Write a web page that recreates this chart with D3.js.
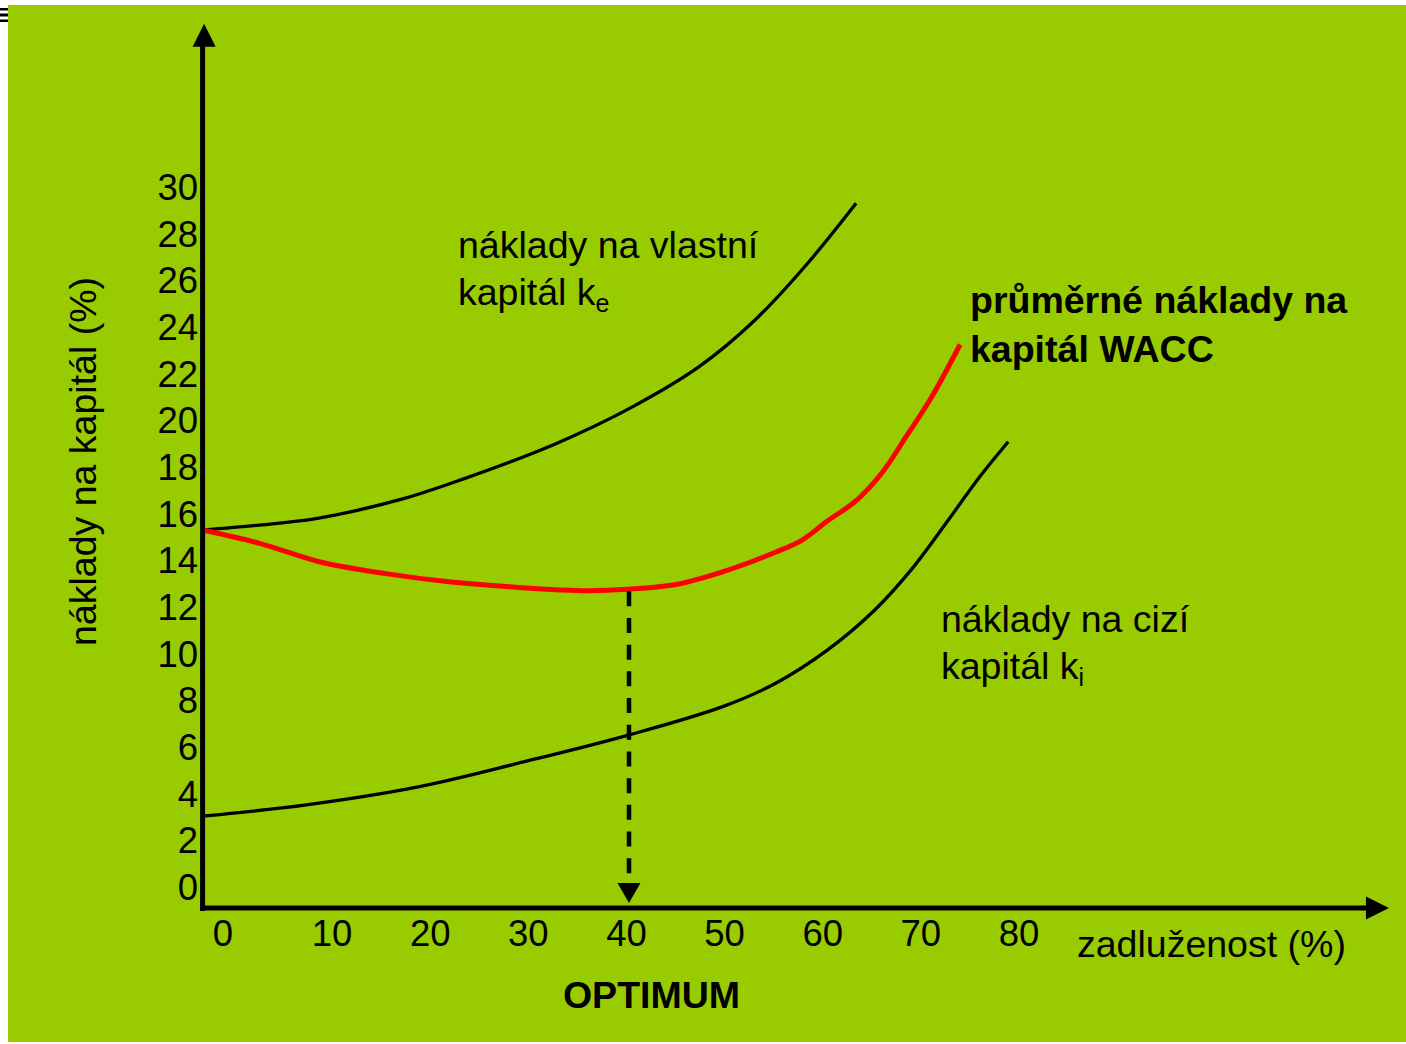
<!DOCTYPE html>
<html>
<head>
<meta charset="utf-8">
<script src="https://cdn.jsdelivr.net/npm/d3@7"></script>
<style>
  html, body { margin: 0; padding: 0; background: #ffffff; }
  svg { display: block; }
  text { font-family: Arial, "Liberation Sans", sans-serif; fill: #000; }
</style>
</head>
<body>
<div id="chart"></div>
<script>
// ---- data (axis units: x = zadluženost %, y = náklady %) ----
const xTicks = [0, 10, 20, 30, 40, 50, 60, 70, 80];
const yTicks = [0, 2, 4, 6, 8, 10, 12, 14, 16, 18, 20, 22, 24, 26, 28, 30];

const keX = [-3.2, 2.3, 8.5, 16.9, 23.1, 32.8, 40.7, 47.4, 53.1, 58.4, 63.4];
const keY = [15.3, 15.5, 15.8, 16.6, 17.45, 19.0, 20.6, 22.3, 24.3, 26.7, 29.3];

const waccX = [-3.2, 2.6, 8.7, 15.3, 21.9, 29.0, 36.1, 40.1, 44.7, 49.8, 55.3, 57.9, 60.4, 63.5, 66.0, 68.5, 71.1, 74.0];
const waccY = [15.3, 14.73, 13.94, 13.44, 13.08, 12.84, 12.70, 12.76, 12.94, 13.51, 14.37, 14.87, 15.66, 16.59, 17.73, 19.3, 21.0, 23.25];

const kiX = [-3.2, 7.2, 18.9, 29.6, 40.2, 49.8, 55.2, 60.5, 65.3, 69.0, 72.8, 76.0, 78.9];
const kiY = [3.04, 3.51, 4.30, 5.37, 6.51, 7.73, 8.73, 10.16, 11.87, 13.59, 15.73, 17.58, 19.08];

const optimumX = 40;
const axisOriginX = -3.2;   // where the vertical axis sits
const axisOriginY = -0.9;   // where the horizontal axis sits
const axisEndX = 117.7;
const axisEndY = 37.0;

const labelKe = ["náklady na vlastní", "kapitál k", "e"];
const labelWacc = ["průměrné náklady na", "kapitál WACC"];
const labelKi = ["náklady na cizí", "kapitál k", "i"];
const yTitle = "náklady na kapitál (%)";
const xTitle = "zadluženost (%)";
const optimumLabel = "OPTIMUM";

// ---- drawing ----
const W = 1406, H = 1044;
const FS = 37.5;
const svg = d3.select("#chart").append("svg").attr("width", W).attr("height", H);

svg.append("rect").attr("x", 8).attr("y", 5).attr("width", W - 8).attr("height", 1037).attr("fill", "#99cc00");

// small marks top-left
[[8, 2.5], [13.5, 3], [19.5, 2.5]].forEach(([y, h]) =>
  svg.append("rect").attr("x", 0).attr("y", y).attr("width", 8).attr("height", h).attr("fill", "#000"));

const x = d3.scaleLinear().domain([0, 80]).range([234, 1019]);
const y = d3.scaleLinear().domain([0, 30]).range([887, 187]);

const line = d3.line().x(d => x(d[0])).y(d => y(d[1])).curve(d3.curveCatmullRom.alpha(0.5));
const zip = (a, b) => a.map((v, i) => [v, b[i]]);

// curves
svg.append("path").attr("d", line(zip(keX, keY))).attr("fill", "none").attr("stroke", "#000").attr("stroke-width", 3.3);
svg.append("path").attr("d", line(zip(kiX, kiY))).attr("fill", "none").attr("stroke", "#000").attr("stroke-width", 3.3);
svg.append("path").attr("d", line(zip(waccX, waccY))).attr("fill", "none").attr("stroke", "#ff0000").attr("stroke-width", 5);

// axes
const ax0 = x(axisOriginX), ay0 = y(axisOriginY);
const axEnd = x(axisEndX), ayEnd = y(axisEndY);
svg.append("line").attr("x1", ax0).attr("x2", ax0).attr("y1", ay0 + 3).attr("y2", ayEnd + 20)
  .attr("stroke", "#000").attr("stroke-width", 5);
svg.append("path").attr("d", `M${ax0 + 1.5},${ayEnd} L${ax0 + 13},${ayEnd + 23} L${ax0 - 10},${ayEnd + 23} Z`).attr("fill", "#000");
svg.append("line").attr("x1", ax0 - 2.5).attr("x2", axEnd - 20).attr("y1", ay0).attr("y2", ay0)
  .attr("stroke", "#000").attr("stroke-width", 5);
svg.append("path").attr("d", `M${axEnd},${ay0} L${axEnd - 23},${ay0 - 11.5} L${axEnd - 23},${ay0 + 11.5} Z`).attr("fill", "#000");

// optimum dashed line
const waccAtOpt = 12.76;
const ox = x(optimumX) + 2.5;
svg.append("line").attr("x1", ox).attr("x2", ox).attr("y1", y(waccAtOpt) + 2).attr("y2", ay0 - 26)
  .attr("stroke", "#000").attr("stroke-width", 4.5).attr("stroke-dasharray", "15,11.7");
svg.append("path").attr("d", `M${ox},${ay0 - 5} L${ox + 11.5},${ay0 - 25} L${ox - 11.5},${ay0 - 25} Z`).attr("fill", "#000");

// tick labels
svg.append("g").selectAll("text").data(yTicks).join("text")
  .attr("x", 198).attr("y", d => y(d)).attr("dy", "0.36em")
  .attr("text-anchor", "end").attr("font-size", 36.5).text(d => d);
svg.append("g").selectAll("text").data(xTicks).join("text")
  .attr("x", d => x(d) + (d === 0 ? -11 : 0)).attr("y", 946)
  .attr("text-anchor", "middle").attr("font-size", 36.5).text(d => d);

// axis titles
svg.append("text").attr("transform", "translate(96,461.5) rotate(-90)")
  .attr("text-anchor", "middle").attr("font-size", FS).text(yTitle);
svg.append("text").attr("x", 1077).attr("y", 957).attr("font-size", FS).text(xTitle);
svg.append("text").attr("x", 651.5).attr("y", 1008).attr("text-anchor", "middle")
  .attr("font-size", FS).attr("font-weight", "bold").text(optimumLabel);

// annotations
function sublabel(xp, y1, y2, lines, bold) {
  const t1 = svg.append("text").attr("x", xp).attr("y", y1).attr("font-size", FS);
  if (bold) t1.attr("font-weight", "bold");
  t1.text(lines[0]);
  const t2 = svg.append("text").attr("x", xp).attr("y", y2).attr("font-size", FS);
  if (bold) t2.attr("font-weight", "bold");
  t2.append("tspan").text(lines[1]);
  if (lines[2]) t2.append("tspan").attr("font-size", 25).attr("dy", 7).text(lines[2]);
}
sublabel(458, 258, 305, labelKe, false);
sublabel(970, 313, 362, labelWacc, true);
sublabel(941, 632, 679, labelKi, false);
</script>
</body>
</html>
